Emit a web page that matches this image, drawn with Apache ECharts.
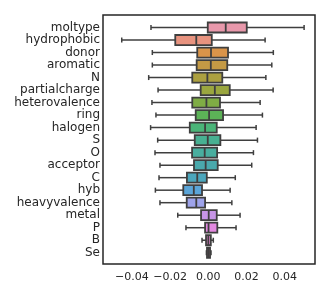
<!DOCTYPE html>
<html>
<head>
<meta charset="utf-8">
<script src="https://cdn.jsdelivr.net/npm/echarts@6/dist/echarts.min.js"></script>
<style>html,body{margin:0;padding:0;background:#fff}#c{width:330px;height:300px}</style>
</head>
<body>
<div id="c"></div>
<script>
const categories = ['moltype','hydrophobic','donor','aromatic','N','partialcharge','heterovalence','ring','halogen','S','O','acceptor','C','hyb','heavyvalence','metal','P','B','Se'];
const whiskerLow = [-0.0300,-0.0453,-0.0293,-0.0293,-0.0312,-0.0263,-0.0295,-0.0274,-0.0302,-0.0265,-0.0279,-0.0253,-0.0258,-0.0277,-0.0253,-0.0160,-0.0117,-0.0033,-0.0010];
const q1 = [-0.0003,-0.0173,-0.0058,-0.0061,-0.0084,-0.0040,-0.0084,-0.0066,-0.0097,-0.0071,-0.0085,-0.0075,-0.0112,-0.0131,-0.0113,-0.0038,-0.0017,-0.0012,-0.0007];
const median = [0.0091,-0.0063,0.0014,0.0013,-0.0005,0.0034,-0.0010,0.0004,-0.0017,-0.0003,-0.0019,-0.0014,-0.0058,-0.0076,-0.0063,0.0002,0.0001,0.0000,0.0001];
const q3 = [0.0201,0.0018,0.0103,0.0099,0.0073,0.0112,0.0061,0.0077,0.0044,0.0063,0.0046,0.0049,-0.0008,-0.0033,-0.0017,0.0044,0.0047,0.0013,0.0009];
const whiskerHigh = [0.0501,0.0297,0.0340,0.0332,0.0301,0.0339,0.0271,0.0283,0.0250,0.0257,0.0236,0.0227,0.0141,0.0114,0.0123,0.0166,0.0145,0.0026,0.0014];
const xTicks = [-0.04,-0.02,0,0.02,0.04];
const colors = ['#e898ab','#e8937f','#d9944a','#c49a45','#aca040','#9aa63f','#7fac45','#5cb257','#4ab478','#48b092','#49ae9f','#4aa9ac','#4ba6bc','#5ba5d8','#9ea3ea','#c795e6','#e389e0','#e586cf','#e8899f'];

const data = categories.map((c, i) => [i, whiskerLow[i], q1[i], median[i], q3[i], whiskerHigh[i]]);
const LINE = '#3f3f3f';

const chart = echarts.init(document.getElementById('c'), null, {renderer: 'canvas'});
chart.setOption({
  animation: false,
  backgroundColor: '#fff',
  grid: {left: 103, right: 15, top: 15, bottom: 36, show: true, borderColor: '#262626', borderWidth: 1.5, backgroundColor: '#fff'},
  xAxis: {
    type: 'value', min: -0.0551, max: 0.0558,
    axisLine: {show: false}, axisTick: {show: false}, splitLine: {show: false},
    axisLabel: {
      customValues: xTicks, margin: 8, color: '#262626', fontSize: 11, fontFamily: 'DejaVu Sans',
      formatter: v => (v < 0 ? '\u2212' : '') + Math.abs(v).toFixed(2)
    }
  },
  yAxis: {
    type: 'value', inverse: true, min: -1, max: 18.9, interval: 1,
    axisLine: {show: false}, axisTick: {show: false}, splitLine: {show: false},
    axisLabel: {
      margin: 3, color: '#262626', fontSize: 12, fontFamily: 'DejaVu Sans',
      formatter: v => (Number.isInteger(v) && categories[v] !== undefined) ? categories[v] : ''
    }
  },
  series: [{
    type: 'custom',
    data: data,
    encode: {x: [1,2,3,4,5], y: 0},
    renderItem: function (params, api) {
      const i = api.value(0);
      const yc = api.coord([0, i])[1];
      const rowH = api.size([0, 1])[1];
      const bh = rowH * 0.8, ch = rowH * 0.4;
      const X = k => api.coord([api.value(k), i])[0];
      const xl = X(1), xq1 = X(2), xm = X(3), xq3 = X(4), xh = X(5);
      const ls = {stroke: LINE, lineWidth: 1.5};
      return {
        type: 'group',
        children: [
          {type: 'line', shape: {x1: xl, y1: yc, x2: xq1, y2: yc}, style: ls},
          {type: 'line', shape: {x1: xq3, y1: yc, x2: xh, y2: yc}, style: ls},
          {type: 'line', shape: {x1: xl, y1: yc - ch/2, x2: xl, y2: yc + ch/2}, style: ls},
          {type: 'line', shape: {x1: xh, y1: yc - ch/2, x2: xh, y2: yc + ch/2}, style: ls},
          {type: 'rect', shape: {x: xq1, y: yc - bh/2, width: xq3 - xq1, height: bh},
            style: {fill: colors[params.dataIndex], stroke: LINE, lineWidth: 1.8}},
          {type: 'line', shape: {x1: xm, y1: yc - bh/2, x2: xm, y2: yc + bh/2}, style: {stroke: LINE, lineWidth: 1.8}}
        ]
      };
    }
  }]
});
</script>
</body>
</html>
